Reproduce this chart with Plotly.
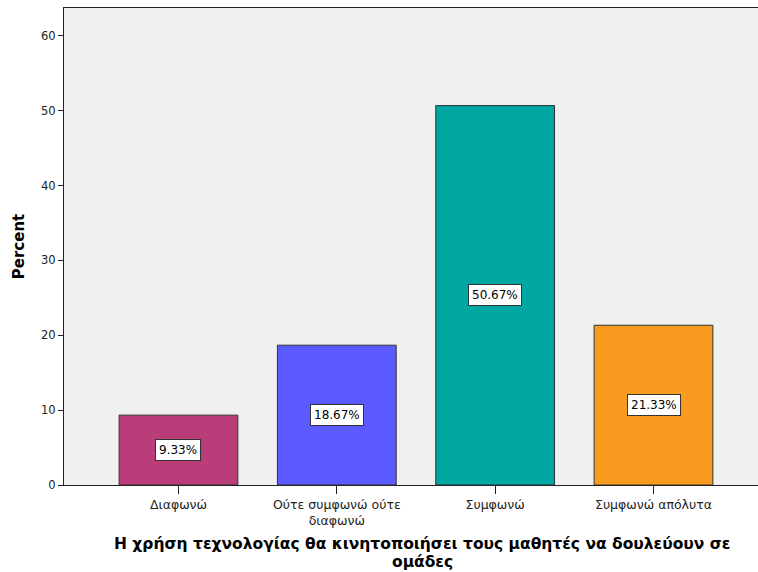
import plotly.graph_objects as go

categories = ["Διαφωνώ", "Ούτε συμφωνώ ούτε<br>διαφωνώ", "Συμφωνώ", "Συμφωνώ απόλυτα"]
percents = [9.33, 18.67, 50.67, 21.33]
labels = ["9.33%", "18.67%", "50.67%", "21.33%"]
colors = ["#BA3D79", "#5B5BFF", "#00A6A2", "#F89B1F"]
y_ticks = [0, 10, 20, 30, 40, 50, 60]
x_title_lines = ["Η χρήση τεχνολογίας θα κινητοποιήσει τους μαθητές να δουλεύουν σε", "ομάδες"]

FONT = "DejaVu Sans, Verdana, sans-serif"

fig = go.Figure()
fig.add_trace(go.Bar(
    x=list(range(len(categories))), y=percents,
    marker=dict(color=colors, line=dict(color="#333333", width=1)),
    width=0.75, hoverinfo="skip",
))

for i, (v, t) in enumerate(zip(percents, labels)):
    fig.add_annotation(x=i, y=v / 2, text=t, showarrow=False,
                       font=dict(family=FONT, size=12, color="#000000"),
                       bgcolor="#FFFFFF", bordercolor="#333333", borderwidth=1, borderpad=3)

for j, line in enumerate(x_title_lines):
    fig.add_annotation(
        x=0.5, xref="paper", y=0, yref="paper", yanchor="middle",
        yshift=-(544 - 485) - 18 * j, xshift=11,
        text="<b>" + line + "</b>", showarrow=False,
        font=dict(family=FONT, size=15.5, color="#000000"),
    )

fig.update_layout(
    width=758, height=572,
    margin=dict(l=64, r=0, t=8, b=87),
    paper_bgcolor="#FFFFFF", plot_bgcolor="#F0F0F0",
    showlegend=False, bargap=0.25,
    font=dict(family=FONT, color="#000000"),
    xaxis=dict(
        range=[-0.723, 3.66], tickmode="array",
        tickvals=list(range(len(categories))), ticktext=categories,
        ticks="outside", ticklen=8, tickcolor="#222222",
        showline=True, linecolor="#222222", linewidth=1, mirror=True,
        showgrid=False, zeroline=False,
        tickfont=dict(family=FONT, size=12.5, color="#222222"),
    ),
    yaxis=dict(
        range=[0, 63.7], tickmode="array", tickvals=y_ticks,
        ticks="outside", ticklen=5, tickcolor="#222222",
        showline=True, linecolor="#222222", linewidth=1,
        showgrid=False, zeroline=False,
        tickfont=dict(family=FONT, size=11.5, color="#222222"),
        title=dict(text="<b>Percent</b>", font=dict(family=FONT, size=15, color="#000000"), standoff=12),
    ),
)

fig.write_html("out.html")
